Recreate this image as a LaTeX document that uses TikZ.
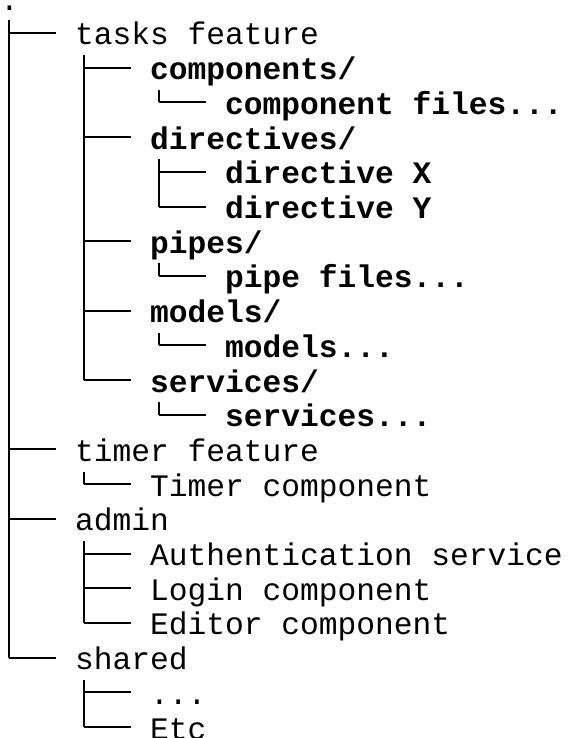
\documentclass[tikz,border=0pt]{standalone}
\usepackage{fontspec}
\newfontfamily\treemono{Liberation Mono}
\newcommand\ry[1]{(33+34.7*(#1-1))}
\newcommand\cx[1]{(#1*18.75+9.375)}
\tikzset{
  treeline/.style={line width=2pt, black},
  lbl/.style={anchor=base west, inner sep=0pt, outer sep=0pt, font=\treemono\fontsize{31.25}{34.7}\selectfont},
  blbl/.style={lbl, font=\treemono\bfseries\fontsize{31.25}{34.7}\selectfont}
}
% horizontal branch of a row: column, row
\newcommand\hbranch[2]{\draw[treeline] ({\cx{#1}},{\ry{#2}}) -- ({(#1+3)*18.75},{\ry{#2}});}
% vertical of a parent: column, first child row, last child row
\newcommand\vbranch[3]{\draw[treeline] ({\cx{#1}},{\ry{#2}-12.5}) -- ({\cx{#1}},{\ry{#3}});}
\begin{document}
\begin{tikzpicture}[x=1pt,y=-1pt]
\useasboundingbox[fill=white] (0,0) rectangle (568,738);
% texts
\node[lbl]  (t0)  at (0,{\ry{0}+12}) {.};
\node[lbl]  (t1)  at ({4*18.75},{\ry{1}+12}) {tasks feature};
\node[blbl] (t2)  at ({8*18.75},{\ry{2}+12}) {components/};
\node[blbl] (t3)  at ({12*18.75},{\ry{3}+12}) {component files...};
\node[blbl] (t4)  at ({8*18.75},{\ry{4}+12}) {directives/};
\node[blbl] (t5)  at ({12*18.75},{\ry{5}+12}) {directive X};
\node[blbl] (t6)  at ({12*18.75},{\ry{6}+12}) {directive Y};
\node[blbl] (t7)  at ({8*18.75},{\ry{7}+12}) {pipes/};
\node[blbl] (t8)  at ({12*18.75},{\ry{8}+12}) {pipe files...};
\node[blbl] (t9)  at ({8*18.75},{\ry{9}+12}) {models/};
\node[blbl] (t10) at ({12*18.75},{\ry{10}+12}) {models...};
\node[blbl] (t11) at ({8*18.75},{\ry{11}+12}) {services/};
\node[blbl] (t12) at ({12*18.75},{\ry{12}+12}) {services...};
\node[lbl]  (t13) at ({4*18.75},{\ry{13}+12}) {timer feature};
\node[lbl]  (t14) at ({8*18.75},{\ry{14}+12}) {Timer component};
\node[lbl]  (t15) at ({4*18.75},{\ry{15}+12}) {admin};
\node[lbl]  (t16) at ({8*18.75},{\ry{16}+12}) {Authentication service};
\node[lbl]  (t17) at ({8*18.75},{\ry{17}+12}) {Login component};
\node[lbl]  (t18) at ({8*18.75},{\ry{18}+12}) {Editor component};
\node[lbl]  (t19) at ({4*18.75},{\ry{19}+12}) {shared};
\node[lbl]  (t20) at ({8*18.75},{\ry{20}+12}) {...};
\node[lbl]  (t21) at ({8*18.75},{\ry{21}+12}) {Etc};
% verticals
\vbranch{0}{1}{19}
\vbranch{4}{2}{11}
\vbranch{8}{3}{3}
\vbranch{8}{5}{6}
\vbranch{8}{8}{8}
\vbranch{8}{10}{10}
\vbranch{8}{12}{12}
\vbranch{4}{14}{14}
\vbranch{4}{16}{18}
\vbranch{4}{20}{21}
% horizontals
\hbranch{0}{1}
\hbranch{4}{2}
\hbranch{8}{3}
\hbranch{4}{4}
\hbranch{8}{5}
\hbranch{8}{6}
\hbranch{4}{7}
\hbranch{8}{8}
\hbranch{4}{9}
\hbranch{8}{10}
\hbranch{4}{11}
\hbranch{8}{12}
\hbranch{0}{13}
\hbranch{4}{14}
\hbranch{0}{15}
\hbranch{4}{16}
\hbranch{4}{17}
\hbranch{4}{18}
\hbranch{0}{19}
\hbranch{4}{20}
\hbranch{4}{21}
\end{tikzpicture}
\end{document}
